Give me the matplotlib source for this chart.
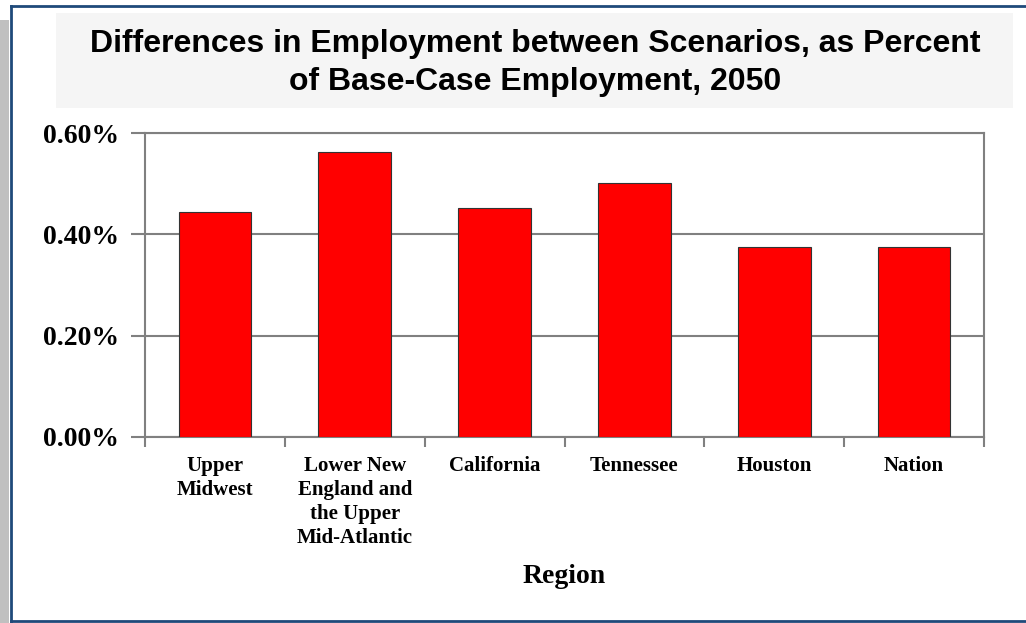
import numpy as np
import matplotlib
matplotlib.use('Agg')
import matplotlib.pyplot as plt
from matplotlib.patches import Rectangle
from matplotlib.ticker import FuncFormatter

# data
regions = ['Upper\nMidwest', 'Lower New\nEngland and\nthe Upper\nMid-Atlantic',
           'California', 'Tennessee', 'Houston', 'Nation']
values = [0.444, 0.562, 0.451, 0.501, 0.375, 0.375]   # percent
y_ticks = [0.0, 0.2, 0.4, 0.6]

W, H = 1026, 623
fig = plt.figure(figsize=(W / 100, H / 100), dpi=100)

# page decoration: grey strip at left, dark blue frame, light title box
fig.patches.append(Rectangle((0, 0), 9 / W, (H - 20) / H, transform=fig.transFigure,
                             facecolor='#c0c0c0', edgecolor='none', zorder=0))
frame_col = '#1f4a7a'
fig.add_artist(plt.Line2D([10.5 / W, 10.5 / W], [0, (H - 6) / H], color=frame_col, lw=2))
fig.add_artist(plt.Line2D([10.5 / W, 1], [(H - 6) / H, (H - 6) / H], color=frame_col, lw=2))
fig.add_artist(plt.Line2D([10.5 / W, 1], [2 / H, 2 / H], color=frame_col, lw=2))
fig.patches.append(Rectangle((56 / W, (H - 108) / H), 957 / W, 95 / H, transform=fig.transFigure,
                             facecolor='#f5f5f5', edgecolor='none', zorder=0))
fig.text(535 / W, (H - 63) / H,
         'Differences in Employment between Scenarios, as Percent\nof Base-Case Employment, 2050',
         ha='center', va='center', fontsize=23, fontweight='bold',
         family='Liberation Sans', linespacing=1.38)

ax = fig.add_axes([145 / W, (H - 437) / H, (984 - 145) / W, (437 - 133) / H])
x = np.arange(len(regions))
ax.bar(x, values, width=0.52, color='#ff0000', edgecolor='#333333', linewidth=0.8, zorder=3)

ax.set_xlim(-0.5, len(regions) - 0.5)
ax.set_ylim(0, 0.6)
ax.set_yticks(y_ticks)
ax.yaxis.set_major_formatter(FuncFormatter(lambda v, p: f'{v:.2f}%'))
ax.yaxis.grid(True, color='#808080', lw=1.5, zorder=1)

# category boundary ticks below the axis
ax.set_xticks(np.arange(-0.5, len(regions)), minor=False)
ax.set_xticklabels([])
ax.set_xticks(x, minor=True)
ax.set_xticklabels(regions, minor=True, fontsize=15, fontweight='bold',
                   family='Liberation Serif', linespacing=1.25, va='top')
ax.tick_params(axis='x', which='minor', length=0, pad=14)
ax.tick_params(axis='x', which='major', length=7, width=1.5, color='#808080', direction='out')
ax.tick_params(axis='y', length=10, width=1.5, color='#808080', direction='out', pad=8.5)
for lab in ax.get_yticklabels():
    lab.set_fontsize(20)
    lab.set_fontweight('bold')
    lab.set_family('Liberation Serif')
for s in ax.spines.values():
    s.set_color('#808080')
    s.set_linewidth(1.5)

ax.set_xlabel('Region', fontsize=20, fontweight='bold', family='Liberation Serif', labelpad=12)

fig.savefig('out.png', dpi=100)
